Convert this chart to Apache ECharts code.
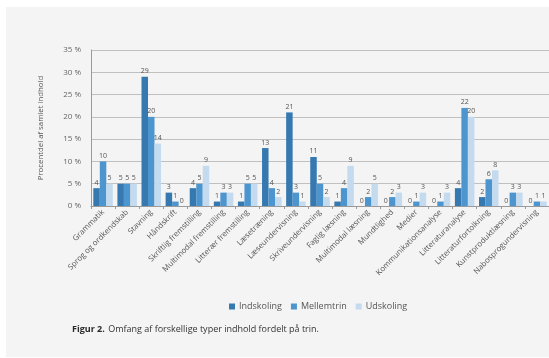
<!DOCTYPE html>
<html>
<head>
<meta charset="utf-8">
<script src="https://cdn.jsdelivr.net/npm/echarts@6/dist/echarts.min.js"></script>
<style>
  html, body { margin: 0; padding: 0; background: #ffffff; }
  #chart { width: 549px; height: 358px; }
</style>
</head>
<body>
<div id="chart"></div>
<script>
// Content categories (x axis)
const categories = [
  'Grammatik', 'Sprog og ordkendskab', 'Stavning', 'Håndskrift',
  'Skriftlig fremstilling', 'Multimodal fremstilling', 'Litterær fremstilling',
  'Læsetræning', 'Læseundervisning', 'Skriveundervisning', 'Faglig læsning',
  'Multimodal læsning', 'Mundtlighed', 'Medier', 'Kommunikationsanalyse',
  'Litteraturanalyse', 'Litteraturfortolkning', 'Kunstproduktlæsning',
  'Nabosprogundervisning'
];

// Share of total content (%) per school stage
const indskoling = [4, 5, 29, 3, 4, 1, 1, 13, 21, 11, 1, 0, 0, 0, 0, 4, 2, 0, 0];
const mellemtrin = [10, 5, 20, 1, 5, 3, 5, 4, 3, 5, 4, 2, 2, 1, 1, 22, 6, 3, 1];
const udskoling  = [5, 5, 14, 0, 9, 3, 5, 2, 1, 2, 9, 5, 3, 3, 3, 20, 8, 3, 1];

const seriesNames = ['Indskoling', 'Mellemtrin', 'Udskoling'];
const seriesColors = ['#3579b0', '#4c95cf', '#c3daef'];
const seriesData = [indskoling, mellemtrin, udskoling];

const chart = echarts.init(document.getElementById('chart'), null, { renderer: 'canvas' });

const FONT = 'Open Sans';

chart.setOption({
  animation: false,
  textStyle: { fontFamily: FONT },
  graphic: [
    {
      type: 'rect',
      left: 6, top: 7,
      shape: { width: 560, height: 350 },
      style: { fill: '#f4f4f4' },
      z: -10
    },
    {
      type: 'text',
      left: 72, top: 323,
      style: {
        rich: {
          b: { fontFamily: FONT, fontSize: 9, fontWeight: 'bold', fill: '#2a2a2a' },
          n: { fontFamily: FONT, fontSize: 9, fill: '#333333' }
        },
        text: '{b|Figur 2.} {n|Omfang af forskellige typer indhold fordelt på trin.}'
      }
    }
  ],
  legend: {
    left: 224, top: 297,
    itemWidth: 6, itemHeight: 6, itemGap: 9,
    icon: 'rect',
    textStyle: { fontSize: 9, color: '#555555', padding: [0, 0, 0, -1] },
    data: seriesNames
  },
  grid: { left: 91, right: -6, top: 50, bottom: 152, containLabel: false },
  xAxis: {
    type: 'category',
    data: categories,
    axisLine: { lineStyle: { color: '#9a9a9a', width: 1 } },
    axisTick: { show: true, length: 3, lineStyle: { color: '#9a9a9a' } },
    axisLabel: {
      interval: 0, rotate: 45, fontSize: 7.8, color: '#555555', margin: 5
    }
  },
  yAxis: {
    type: 'value',
    min: 0, max: 35, interval: 5,
    name: 'Procentdel af samlet indhold',
    nameLocation: 'middle',
    nameRotate: 90,
    nameGap: 46,
    nameTextStyle: { fontSize: 7.8, color: '#555555' },
    axisLine: { show: true, lineStyle: { color: '#9a9a9a' } },
    axisTick: { show: false },
    splitLine: { lineStyle: { color: '#c0c0c0', width: 1 } },
    axisLabel: {
      fontSize: 8, color: '#666666', margin: 10,
      formatter: v => v + ' %'
    }
  },
  series: seriesNames.map((name, i) => ({
    name,
    type: 'bar',
    data: seriesData[i],
    barWidth: 6.5,
    barGap: '0%',
    itemStyle: { color: seriesColors[i] },
    label: {
      show: true, position: 'top', distance: 2,
      fontSize: 7, color: '#555555'
    }
  }))
});
</script>
</body>
</html>
